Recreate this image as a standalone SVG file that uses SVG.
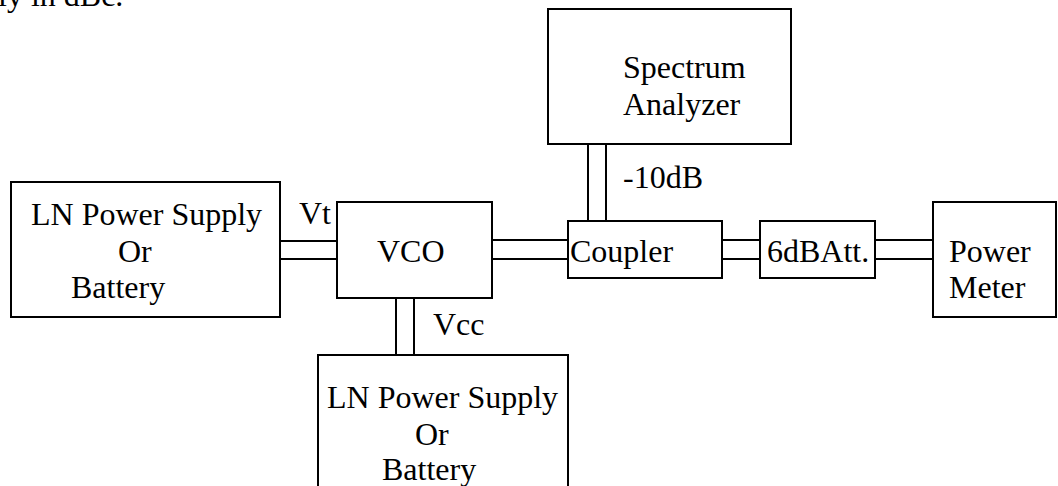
<svg xmlns="http://www.w3.org/2000/svg" width="1058" height="486" viewBox="0 0 1058 486">
<style>
.box{fill:#fff;stroke:#000;stroke-width:2}
.wire{stroke:#000;stroke-width:2;fill:none}
text{font-family:"Liberation Serif","Times New Roman",serif;font-size:32px;fill:#000}
</style>
<rect width="1058" height="486" fill="#fff"/>
<text x="-2" y="6">ly in dBc.</text>
<g id="connectors">
<path class="wire" d="M280 241H337M280 259H337"/>
<path class="wire" d="M492 240H568M492 259H568"/>
<path class="wire" d="M722 240H760M722 259H760"/>
<path class="wire" d="M875 240H933M875 259H933"/>
<path class="wire" d="M588 144V221M606 144V221"/>
<path class="wire" d="M396 298V355M414 298V355"/>
</g>
<g id="ps1">
<rect class="box" x="11" y="182" width="269" height="135"/>
<text x="31" y="225">LN Power Supply</text>
<text x="118" y="262">Or</text>
<text x="71" y="298">Battery</text>
</g>
<text id="vt" x="299" y="224">Vt</text>
<g id="vco">
<rect class="box" x="337" y="202" width="155" height="96"/>
<text x="377" y="262">VCO</text>
</g>
<g id="coupler">
<rect class="box" x="568" y="221" width="154" height="57"/>
<text x="570" y="262">Coupler</text>
</g>
<g id="att">
<rect class="box" x="760" y="221" width="115" height="57"/>
<text x="767" y="262">6dBAtt.</text>
</g>
<g id="pm">
<rect class="box" x="933" y="202" width="123" height="115"/>
<text x="949" y="262">Power</text>
<text x="949" y="298">Meter</text>
</g>
<g id="sa">
<rect class="box" x="548" y="9" width="243" height="135"/>
<text x="623" y="78">Spectrum</text>
<text x="623" y="115">Analyzer</text>
</g>
<text id="att10" x="623" y="188">-10dB</text>
<g id="ps2">
<rect class="box" x="318" y="355" width="250" height="150"/>
<text x="327" y="408">LN Power Supply</text>
<text x="415" y="445">Or</text>
<text x="382" y="480">Battery</text>
</g>
<text id="vcc" x="433" y="335">Vcc</text>
</svg>
